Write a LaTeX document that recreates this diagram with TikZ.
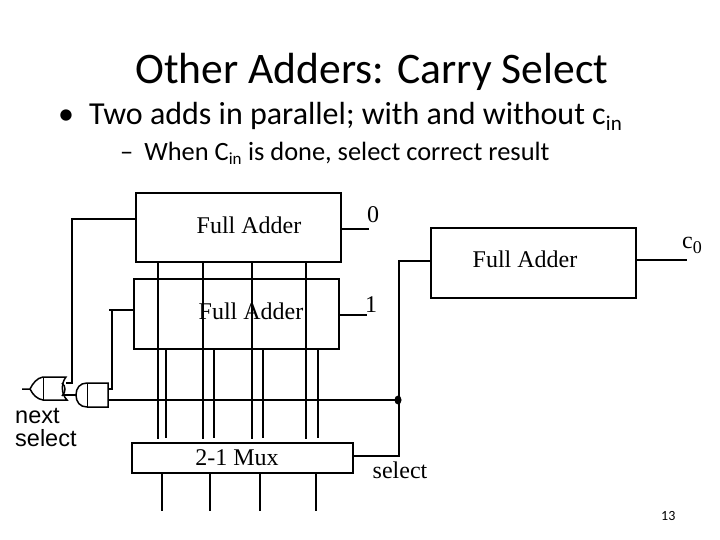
\documentclass[tikz,border=0pt]{standalone}
\usepackage{fontspec}
\setmainfont{Liberation Serif}
\newfontfamily\slidefont{Carlito}
\newfontfamily\gatefont{Liberation Sans}
\usetikzlibrary{positioning,calc}

\begin{document}
\begin{tikzpicture}[
    x=1pt, y=-1pt,
    wire/.style={line width=1.5pt, line cap=butt},
    thinwire/.style={line width=0.6pt},
    block/.style={draw, rectangle, line width=1.5pt, inner sep=0pt, minimum width=#1},
    blocklabel/.style={inner sep=0pt, font=\fontsize{24}{26}\selectfont},
    slidetext/.style={inner sep=0pt, anchor=base west, font=\slidefont\fontsize{#1}{#1}\selectfont}
]
  \useasboundingbox (0,0) rectangle (720,540);

  % -------------------------------------------------------------
  % TITLE AND BULLETS
  % -------------------------------------------------------------
  \node[slidetext=43.6] (title) at (135,84) {Other Adders: Carry Select};
  \node[slidetext=32] (bullet) at (58,125) {\textbullet\hspace{15pt}Two adds in parallel; with and without c$_{\mbox{\slidefont\fontsize{21}{21}\selectfont in}}$};
  \node[slidetext=26.4] (subbullet) at (120,161) {–\hspace{11pt}When C$_{\mbox{\slidefont\fontsize{17}{17}\selectfont in}}$ is done, select correct result};

  % -------------------------------------------------------------
  % BLOCKS
  % -------------------------------------------------------------
  \node[block=205pt, minimum height=69pt] (fa_top) at (238.5,227.5) {};
  \node[block=205pt, minimum height=70pt] (fa_bot) at (236.5,314) {};
  \node[block=205pt, minimum height=70pt] (fa_next) at (533.5,263) {};
  \node[block=221pt, minimum height=30pt] (mux) at (242.5,458) {};

  \node[blocklabel] (lbl_top) at (249,225) {Full Adder};
  \node[blocklabel] (lbl_bot) at (251,311) {Full Adder};
  \node[blocklabel] (lbl_next) at (525,259) {Full Adder};
  \node[blocklabel] (lbl_mux) at (237,458) {2-1 Mux};

  \node[blocklabel] (zero) at (373,215) {0};
  \node[blocklabel] (one) at (371,305) {1};
  \node[blocklabel] (select) at (400,470) {select};
  \node[blocklabel, anchor=base west] (carry) at (682,248) {c\raisebox{-5pt}{\fontsize{18}{18}\selectfont 0}};
  \node[inner sep=0pt, align=left, anchor=north west, font=\gatefont\fontsize{23.5}{23.5}\selectfont] (nextsel) at (15,408) {next\\select};
  \node[slidetext=14] (page) at (661,520) {13};

  % -------------------------------------------------------------
  % WIRES BETWEEN THE ADDERS AND THE MUX
  % -------------------------------------------------------------
  \foreach \x in {158,203,252,306}
    \draw[wire, shorten >=3pt] (fa_top.south -| \x,0) -- (mux.north -| \x,0);
  \foreach \x in {166,214,263,318}
    \draw[wire, shorten >=4pt] (fa_bot.south -| \x,0) -- (mux.north -| \x,0);
  \foreach \x in {162,210,260,316}
    \draw[wire] (mux.south -| \x,0) -- +(0,37);

  % outputs
  \coordinate (out_top) at (369,229);
  \coordinate (out_bot) at (367,315);
  \coordinate (out_next) at (687,260);
  \draw[wire] (fa_top.east |- out_top) -- (out_top);
  \draw[wire] (fa_bot.east |- out_bot) -- (out_bot);
  \draw[wire] (fa_next.east |- out_next) -- (out_next);

  % select line
  \coordinate (sel_corner) at (399,456);
  \coordinate (sel_dot) at (398,400);
  \coordinate (sel_top) at (399,261);
  \draw[wire] (mux.east |- sel_corner) -- (sel_corner) -- (sel_top) -- (fa_next.west |- sel_top);
  \fill (sel_dot) ellipse (3.5pt and 4.5pt);

  % -------------------------------------------------------------
  % NEXT SELECT GATES
  % -------------------------------------------------------------
  \coordinate (and_nw) at (87,383);
  \coordinate (and_ne) at (108,383);
  \coordinate (and_se) at (108,407);
  \coordinate (and_sw) at (87,407);
  \coordinate (xor_out) at (22,389);
  \draw[wire] (and_sw) -- (and_se) -- (and_ne) -- (and_nw)
    .. controls (80,383) and (76,388) .. (76,395) .. controls (76,402) and (80,407) .. (and_sw);
  \draw[thinwire] (and_nw) -- (and_sw);
  \draw[wire] (xor_out) -- (30,389) .. controls (33,383) and (37,378) .. (43,377)
    -- (66,377) .. controls (61,383) and (61,394) .. (67,400) -- (43,400)
    .. controls (37,399) and (33,395) .. (30,389);
  \draw[thinwire] (43,377) -- (43,400);
  \draw[wire] (62,383) .. controls (66,386) and (66,392) .. (62,396);

  % wires into the gates
  \coordinate (fb_top) at (72,219);
  \coordinate (fb_bot) at (112,310);
  \draw[wire] (fa_top.west |- fb_top) -- (fb_top) -- (72,383) -- (66,383);
  \draw[wire] (fa_bot.west |- fb_bot) -- (109,310) (fb_bot) -- (112,389) -- (108,389);
  \draw[wire] (63,395) -- (76,395);
  \draw[wire] (and_se |- sel_dot) -- (sel_dot);
\end{tikzpicture}
\end{document}
